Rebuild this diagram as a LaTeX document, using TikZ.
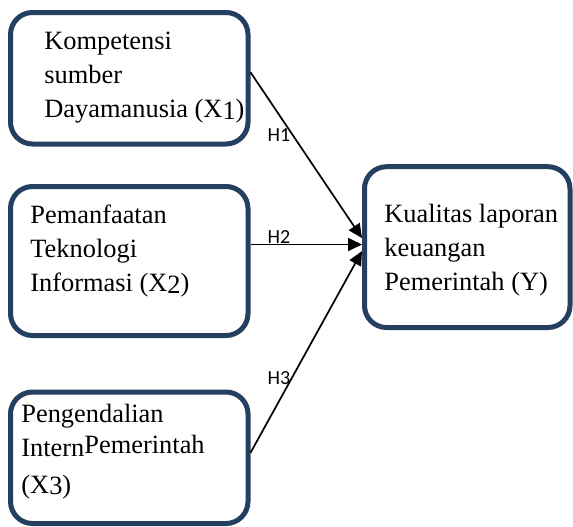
\documentclass[tikz,border=0pt]{standalone}
\usepackage{fontspec}
\setmainfont{Liberation Serif}
\newfontfamily\labelfont{Carlito}
\usetikzlibrary{arrows.meta,calc}
\definecolor{BoxNavy}{HTML}{243F60}
\newcommand{\lowdigit}[1]{\raisebox{-0.6pt}{#1}}

\begin{document}
\begin{tikzpicture}[x=0.5pt,y=-0.5pt,
    varbox/.style={draw=BoxNavy,line width=2.5pt,rounded corners=11pt,fill=white,inner sep=0pt},
    boxtext/.style={anchor=north west,inner sep=0pt,align=left,font=\fontsize{13.2}{17}\selectfont},
    hlabel/.style={font=\labelfont\fontsize{10}{12}\selectfont,inner sep=0pt},
    link/.style={line width=0.85pt,-{Triangle[length=7pt,width=6.5pt]}}]
    \useasboundingbox (0,0) rectangle (573,526);
    % variable boxes
    \node[varbox,minimum width=118.75pt,minimum height=65.75pt] (x1) at (129.25,78.25) {};
    \node[varbox,minimum width=118.75pt,minimum height=74.5pt] (x2) at (129.25,261) {};
    \node[varbox,minimum width=118.75pt,minimum height=65.75pt] (x3) at (129.25,457.75) {};
    \node[varbox,minimum width=102.75pt,minimum height=80.4pt] (y) at (467.25,247.1) {};
    \node[boxtext] (x1txt) at (44,32) {Kompetensi\\sumber\\Dayamanusia (X\lowdigit{1})};
    \node[boxtext] (x2txt) at (30,205) {Pemanfaatan\\Teknologi\\Informasi (X\lowdigit{2})};
    \node[boxtext] (x3txt) at (21,404) {Pengendalian\\Intern\raisebox{1.5pt}{Pemerintah}\\[1.5pt](X\lowdigit{3})};
    \node[boxtext] (ytxt) at (384,204) {Kualitas laporan\\keuangan\\Pemerintah (Y)};
    % hypotheses
    \draw[link] ($(x1.east)+(0,-6)$) -- ($(y.west)+(0,-9)$);
    \draw[link] ($(x2.east)+(0,-16.5)$) -- ($(y.west)+(0,-2.6)$);
    \draw[link] ($(x3.east)+(0,-5)$) -- ($(y.west)+(0,4)$);
    \foreach \n/\yy in {1/135,2/237,3/378}
      \node[hlabel] (h\n) at (279,\yy) {H\n};
\end{tikzpicture}
\end{document}
